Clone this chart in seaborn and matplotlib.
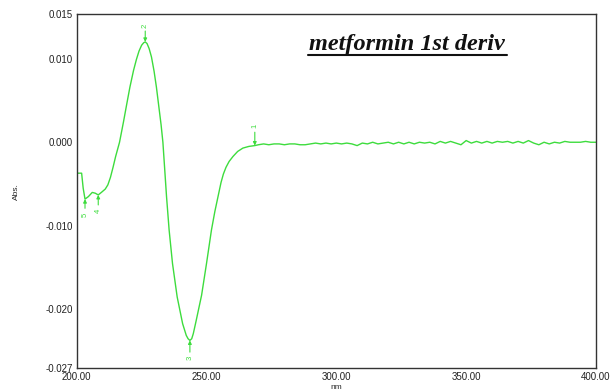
import matplotlib
matplotlib.use("Agg")
import matplotlib.pyplot as plt
import seaborn as sns
import pandas as pd
from matplotlib.lines import Line2D

# ---- data ----
wl_main = [200.0, 201.9, 202.5, 203.2, 204.5, 206.0, 207.2, 208.3, 209.5, 211.0,
           212.0, 213.0, 214.0, 215.0, 216.5, 218.0, 219.3, 220.5, 221.9, 223.0,
           224.0, 225.0, 225.8, 226.4, 227.1, 227.9, 228.8, 229.8, 230.7, 231.5,
           232.5, 233.2, 234.0, 234.6, 235.6, 236.9, 238.7, 240.8, 242.2, 242.9,
           243.6, 244.3, 244.9, 245.9, 248.1, 250.0, 251.9, 253.2, 254.5, 255.6,
           256.5, 257.5, 258.7, 260.2, 262.0, 264.0, 266.3, 268.6]
abs_main = [-0.0037, -0.0037, -0.0055, -0.0068, -0.0065, -0.0060, -0.0061, -0.0063, -0.0060, -0.0056,
            -0.0051, -0.0042, -0.0030, -0.0017, 0.0000, 0.0024, 0.0046, 0.0066, 0.0086, 0.0099,
            0.0109, 0.0116, 0.0119, 0.0120, 0.0118, 0.0112, 0.0102, 0.0085, 0.0066, 0.0046,
            0.0021, 0.0000, -0.0037, -0.0065, -0.0105, -0.0145, -0.0185, -0.0217, -0.0231, -0.0235,
            -0.0237, -0.0235, -0.0229, -0.0215, -0.0183, -0.0145, -0.0105, -0.0083, -0.0064, -0.0048,
            -0.0038, -0.0030, -0.0023, -0.0017, -0.0011, -0.0007, -0.0005, -0.0004]
wl_tail = list(range(270, 401, 2))
abs_tail_e4 = [-3, -2, -3, -2, -2, -3, -2, -2, -3, -3,
               -2, -1, -2, -1, -2, -1, -2, -1, -2, -4,
               -1, -2, 0, -2, -1, 0, -2, 0, -2, 0,
               -2, 0, -1, 0, -2, 1, -1, 1, -1, -3,
               2, -1, 1, -1, 1, -1, 1, 0, 1, -1,
               1, -1, 2, -1, -3, 0, -2, 0, -1, 1,
               0, 0, 0, 1, 0, 0]
abs_tail = [v * 1e-4 for v in abs_tail_e4]

# peak markers: label, wavelength, arrow head, arrow tail, label position
peak_labels = ["1", "2", "3", "4", "5"]
peak_wl = [268.6, 226.4, 243.6, 208.3, 203.2]
peak_head = [-0.0004, 0.0120, -0.0237, -0.0063, -0.0068]
peak_tail = [0.0012, 0.0133, -0.0251, -0.0075, -0.0079]
peak_text = [0.0020, 0.0139, -0.0258, -0.0082, -0.0087]

xticks = [200, 250, 300, 350, 400]
xtick_labels = ["200.00", "250.00", "300.00", "350.00", "400.00"]
yticks = [-0.027, -0.020, -0.010, 0.000, 0.010, 0.0153]
ytick_labels = ["-0.027", "-0.020", "-0.010", "0.000", "0.010", "0.015"]
title = "metformin 1st deriv"

df = pd.DataFrame({"nm": wl_main + wl_tail, "Abs": abs_main + abs_tail})

sns.set_style("white")
plt.rcParams["font.family"] = ["Liberation Sans", "DejaVu Sans"]

green = "#3ddc3d"
fig = plt.figure(figsize=(6.16, 3.91), dpi=100)
ax = fig.add_axes([0.1245, 0.0588, 0.8430, 0.9046])
sns.lineplot(data=df, x="nm", y="Abs", ax=ax, color=green, lw=1.0,
             sort=False, estimator=None)

for lab, w, h, t, tp in zip(peak_labels, peak_wl, peak_head, peak_tail, peak_text):
    ax.annotate("", xy=(w, h), xytext=(w, t),
                arrowprops=dict(arrowstyle="-|>", color=green, lw=0.8,
                                mutation_scale=5, shrinkA=0, shrinkB=0))
    ax.text(w, tp, lab, color=green, fontsize=5.5, rotation=90,
            ha="center", va="center")

ax.set_xlim(200, 400)
ax.set_ylim(-0.027, 0.0153)
ax.set_xticks(xticks)
ax.set_xticklabels(xtick_labels)
ax.set_yticks(yticks)
ax.set_yticklabels(ytick_labels)
ax.tick_params(direction="in", length=4, width=0.9, colors="#222222",
               labelsize=7, pad=3)
for s in ax.spines.values():
    s.set_visible(True)
    s.set_color("#333333")
    s.set_linewidth(1.0)
ax.set_xlabel("nm", fontsize=6, labelpad=1)
ax.set_ylabel("Abs.", fontsize=6, labelpad=18)

fig.text(407 / 616, 1 - 50 / 391, title, ha="center", va="baseline",
         fontsize=17.5, fontstyle="italic", fontweight="bold",
         family=["Liberation Serif", "DejaVu Serif"], color="#111111")
fig.add_artist(Line2D([308 / 616, 507 / 616], [1 - 55 / 391, 1 - 55 / 391],
                      transform=fig.transFigure, color="#111111", lw=1.5))

fig.savefig("out.png", dpi=100)
